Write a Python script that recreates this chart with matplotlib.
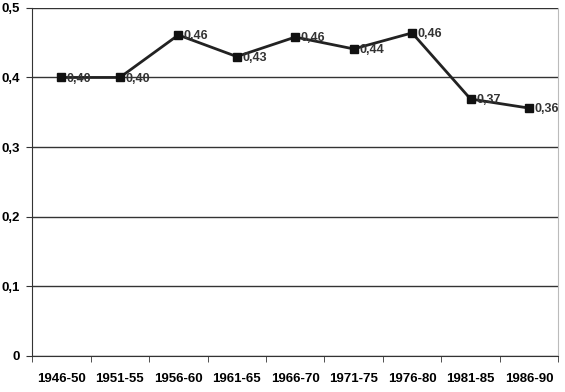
import matplotlib
matplotlib.use('Agg')
import matplotlib.pyplot as plt
import numpy as np

periods = ['1946-50', '1951-55', '1956-60', '1961-65', '1966-70',
           '1971-75', '1976-80', '1981-85', '1986-90']
values = [0.400, 0.400, 0.461, 0.430, 0.458, 0.441, 0.464, 0.369, 0.356]
labels = ['0,40', '0,40', '0,46', '0,43', '0,46', '0,44', '0,46', '0,37', '0,36']
y_ticks = [0, 0.1, 0.2, 0.3, 0.4, 0.5]
y_ticklabels = ['0', '0,1', '0,2', '0,3', '0,4', '0,5']

plt.rcParams['font.family'] = ['Liberation Sans', 'DejaVu Sans']
plt.rcParams['font.weight'] = 'bold'

fig = plt.figure(figsize=(5.65, 3.92), dpi=100)
ax = fig.add_axes([0.057, 0.092, 0.931, 0.888])

x = np.arange(len(periods))
ax.plot(x, values, color='#222222', linewidth=2, marker='s', markersize=6,
        markerfacecolor='#111111', markeredgecolor='#111111', zorder=3)
for xi, v, lab in zip(x, values, labels):
    ax.annotate(lab, (xi, v), xytext=(4, -1), textcoords='offset points',
                fontsize=9, fontweight='bold', color='#333333', va='center')

ax.set_xlim(-0.5, len(periods) - 0.5)
ax.set_ylim(0, 0.5)
ax.set_yticks(y_ticks)
ax.set_yticklabels(y_ticklabels, fontsize=9.5, fontweight='bold')
ax.yaxis.grid(True, color='#333333', linewidth=1)
ax.set_axisbelow(True)

ax.set_xticks(x)
ax.set_xticklabels(periods, fontsize=9.5, fontweight='bold')
ax.set_xticks(np.arange(-0.5, len(periods)), minor=True)
ax.tick_params(axis='x', which='major', length=0, pad=12)
ax.tick_params(axis='x', which='minor', length=4, color='#333333')
ax.tick_params(axis='y', length=4, color='#333333', pad=5)

ax.spines['top'].set_visible(False)
ax.spines['right'].set_color('#bbbbbb')
ax.spines['left'].set_color('#333333')
ax.spines['bottom'].set_color('#333333')

fig.savefig('out.png', dpi=100)
